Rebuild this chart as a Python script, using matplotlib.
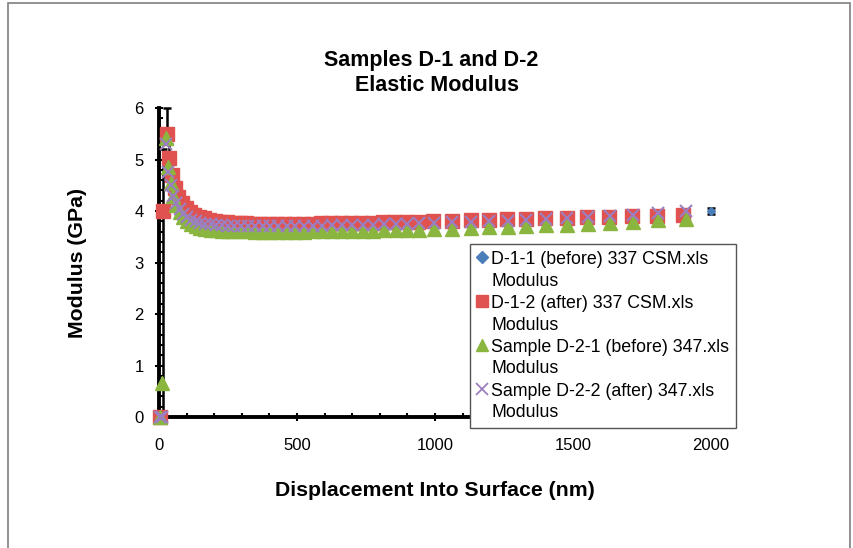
import matplotlib
matplotlib.use("Agg")
import matplotlib.pyplot as plt
import numpy as np
from matplotlib.lines import Line2D
from matplotlib.legend_handler import HandlerLine2D
from matplotlib.patches import Rectangle
from matplotlib.ticker import MultipleLocator

plt.rcParams['font.family'] = ['Liberation Sans', 'DejaVu Sans']

# displacement (nm), D-1 samples
x_d1 = [5, 15, 28, 35, 47, 58, 70, 83, 97, 112, 128, 145, 163, 182, 202, 223, 245,
        268, 292, 317, 343, 370, 398, 427, 457, 488, 520, 553, 587, 622, 658, 695,
        733, 772, 812, 853, 895, 938, 993, 1060, 1130, 1195, 1262, 1328, 1400, 1478,
        1552, 1632, 1714, 1806, 1900]
x_d1_1 = x_d1 + [2000]
# displacement (nm), D-2 samples
x_d2 = [5, 12, 25, 33, 42, 52, 63, 75, 88, 102, 117, 133, 150, 168, 187, 207, 228,
        250, 273, 297, 322, 348, 375, 403, 432, 462, 493, 525, 558, 592, 627, 663,
        700, 738, 777, 817, 858, 900, 943, 995, 1062, 1132, 1197, 1264, 1330, 1402,
        1480, 1554, 1634, 1716, 1808, 1908]

mod_d1_1 = [0, 4.0, 5.5, 5.03, 4.7, 4.45, 4.28, 4.15, 4.05, 3.97,
            3.92, 3.88, 3.85, 3.82, 3.8, 3.78, 3.77, 3.76, 3.75, 3.75,
            3.74, 3.74, 3.74, 3.74, 3.74, 3.74, 3.74, 3.74, 3.75, 3.75,
            3.75, 3.76, 3.76, 3.76, 3.77, 3.77, 3.78, 3.78, 3.79, 3.8,
            3.81, 3.82, 3.83, 3.84, 3.85, 3.86, 3.87, 3.88, 3.89, 3.9, 3.92, 4.0]
err_lo_d1_1 = [0, 3.9, 0.1, 0.1, 0.06, 0.04, 0.03, 0.03, 0.02, 0.02,
               0.02, 0.02, 0.02, 0.02, 0.02, 0.02, 0.02, 0.02, 0.02, 0.02,
               0.02, 0.02, 0.02, 0.02, 0.02, 0.02, 0.02, 0.02, 0.02, 0.02,
               0.02, 0.02, 0.02, 0.02, 0.02, 0.02, 0.02, 0.02, 0.02, 0.02,
               0.02, 0.02, 0.02, 0.02, 0.02, 0.02, 0.02, 0.02, 0.02, 0.02, 0.02, 0.06]
err_hi_d1_1 = [0, 1.2, 0.5, 0.28, 0.06, 0.04, 0.03, 0.03, 0.02, 0.02,
               0.02, 0.02, 0.02, 0.02, 0.02, 0.02, 0.02, 0.02, 0.02, 0.02,
               0.02, 0.02, 0.02, 0.02, 0.02, 0.02, 0.02, 0.02, 0.02, 0.02,
               0.02, 0.02, 0.02, 0.02, 0.02, 0.02, 0.02, 0.02, 0.02, 0.02,
               0.02, 0.02, 0.02, 0.02, 0.02, 0.02, 0.02, 0.02, 0.02, 0.02, 0.02, 0.06]
mod_d1_2 = [0, 4.0, 5.5, 5.03, 4.7, 4.45, 4.28, 4.15, 4.05, 3.98,
            3.93, 3.89, 3.86, 3.83, 3.81, 3.79, 3.78, 3.77, 3.76, 3.76,
            3.75, 3.75, 3.75, 3.75, 3.75, 3.75, 3.75, 3.75, 3.76, 3.76,
            3.76, 3.77, 3.77, 3.77, 3.78, 3.78, 3.79, 3.79, 3.8, 3.81,
            3.82, 3.83, 3.84, 3.85, 3.86, 3.87, 3.88, 3.89, 3.9, 3.91, 3.93]
mod_d2_1 = [0, 0.66, 5.42, 4.85, 4.55, 4.3, 4.12, 3.98, 3.88, 3.8,
            3.74, 3.7, 3.67, 3.65, 3.64, 3.63, 3.62, 3.62, 3.61, 3.61,
            3.61, 3.6, 3.6, 3.6, 3.6, 3.6, 3.6, 3.6, 3.61, 3.61,
            3.61, 3.61, 3.62, 3.62, 3.62, 3.63, 3.63, 3.64, 3.64, 3.65,
            3.66, 3.67, 3.68, 3.69, 3.7, 3.72, 3.73, 3.75, 3.77, 3.79, 3.82, 3.85]
mod_d2_2 = [0, 0, 5.3, 4.75, 4.5, 4.3, 4.15, 4.03, 3.95, 3.88,
            3.83, 3.8, 3.77, 3.75, 3.74, 3.73, 3.72, 3.71, 3.71, 3.7,
            3.7, 3.7, 3.7, 3.7, 3.7, 3.7, 3.7, 3.71, 3.71, 3.71,
            3.72, 3.72, 3.72, 3.73, 3.73, 3.74, 3.74, 3.75, 3.76, 3.77,
            3.78, 3.79, 3.8, 3.81, 3.83, 3.84, 3.86, 3.88, 3.9, 3.93, 3.96, 4.0]

labels = ["D-1-1 (before) 337 CSM.xls\nModulus",
          "D-1-2 (after) 337 CSM.xls\nModulus",
          "Sample D-2-1 (before) 347.xls\nModulus",
          "Sample D-2-2 (after) 347.xls\nModulus"]

blue = "#4a7ebb"
red = "#e0524f"
green = "#8ab640"
purple = "#9b7fc0"


class TopHandler(HandlerLine2D):
    # put the legend marker next to the first text line
    def create_artists(self, legend, orig_handle, xdescent, ydescent, width,
                       height, fontsize, trans):
        arts = super().create_artists(legend, orig_handle, xdescent, ydescent,
                                      width, height, fontsize, trans)
        for a in arts:
            a.set_ydata(np.asarray(a.get_ydata()) + 0.74 * fontsize)
        return arts


fig = plt.figure(figsize=(8.54, 5.48), dpi=100)
fig.patches.append(Rectangle((8 / 854, -0.02), 842 / 854, 1.02 - 3 / 548,
                             transform=fig.transFigure, fill=False,
                             edgecolor="#7f7f7f", linewidth=1.2))
ax = fig.add_axes([159 / 854, 131 / 548, 552 / 854, 309 / 548])

ax.errorbar(x_d1_1, mod_d1_1, yerr=[err_lo_d1_1, err_hi_d1_1], fmt='D',
            color=blue, markersize=4, ecolor='black', elinewidth=1.8, capsize=3,
            capthick=1.8, clip_on=False, zorder=3)
ax.plot(x_d1, mod_d1_2, 's', color=red, markersize=10, clip_on=False, zorder=4)
ax.plot(x_d2, mod_d2_1, '^', color=green, markersize=10, clip_on=False, zorder=5)
ax.plot(x_d2, mod_d2_2, 'x', color=purple, markersize=9, markeredgewidth=1.5,
        clip_on=False, zorder=6)

ax.set_xlim(0, 2000)
ax.set_ylim(0, 6)
ax.xaxis.set_major_locator(MultipleLocator(500))
ax.xaxis.set_minor_locator(MultipleLocator(100))
ax.yaxis.set_major_locator(MultipleLocator(1))
ax.yaxis.set_minor_locator(MultipleLocator(0.2))
ax.tick_params(which='major', direction='inout', length=6, width=1.5,
               labelsize=12)
ax.tick_params(axis='x', which='major', pad=12)
ax.tick_params(axis='y', which='major', pad=8)
ax.tick_params(which='minor', direction='in', length=3, width=1.5)
for s in ['top', 'right']:
    ax.spines[s].set_visible(False)
for s in ['left', 'bottom']:
    ax.spines[s].set_linewidth(2.8)
    ax.spines[s].set_zorder(2)

ax.set_xlabel("Displacement Into Surface (nm)", fontsize=15.3, fontweight='bold',
              labelpad=20)
ax.set_ylabel("Modulus (GPa)", fontsize=15.3, fontweight='bold', labelpad=34)
fig.text(431 / 854, 1 - 73 / 548, "Samples D-1 and D-2\n  Elastic Modulus",
         ha='center', va='center', fontsize=15.5, fontweight='bold',
         linespacing=1.25)

handles = [Line2D([], [], marker='D', color=blue, linestyle='', markersize=6),
           Line2D([], [], marker='s', color=red, linestyle='', markersize=9),
           Line2D([], [], marker='^', color=green, linestyle='', markersize=9),
           Line2D([], [], marker='x', color=purple, linestyle='', markersize=8,
                  markeredgewidth=1.3)]
leg = ax.legend(handles, labels, loc='upper left', bbox_to_anchor=(0.563, 0.56),
                fontsize=12.8, frameon=True, fancybox=False, framealpha=1,
                edgecolor='#555555', handlelength=0.6, handletextpad=0.2,
                borderpad=0.4, labelspacing=0.3, borderaxespad=0,
                handler_map={Line2D: TopHandler()})
leg.get_frame().set_linewidth(1.0)
leg.set_zorder(10)
for t in leg.get_texts():
    t.set_linespacing(1.35)

fig.savefig("out.png", dpi=100)
